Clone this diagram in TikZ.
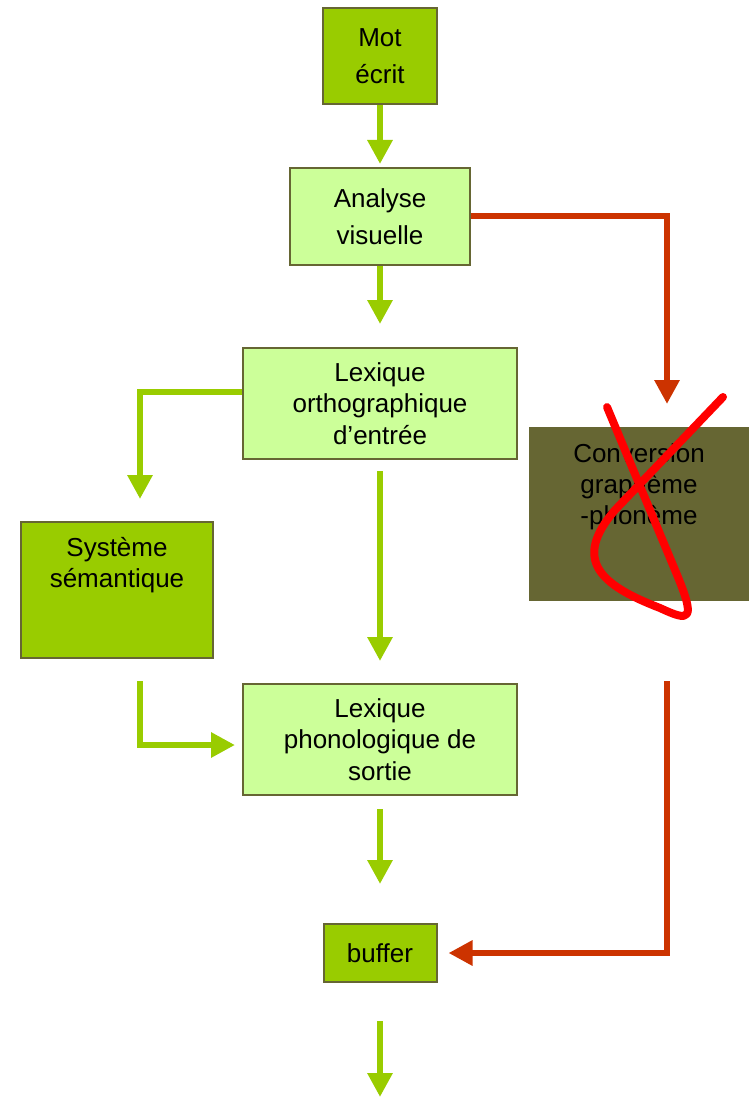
\documentclass[tikz,border=0pt]{standalone}
\usepackage{fontspec}
\setmainfont{Liberation Sans}
\usetikzlibrary{arrows.meta,positioning,calc}
\definecolor{litegreen}{HTML}{CCFF99}
\definecolor{darkgreen}{HTML}{99CC00}
\definecolor{olivebox}{HTML}{666633}
\definecolor{arrowred}{HTML}{CC3300}
\tikzset{>={Triangle[width=18pt,length=18pt]}}

\begin{document}
\begin{tikzpicture}[x=0.75pt, y=-0.75pt,
  txt/.style = {font=\fontsize{19.5}{23.5}\selectfont, align=center, inner sep=0pt},
  box/.style = {txt, draw=olivebox, line width=1.5pt},
  lite/.style = {box, fill=litegreen},
  dark/.style = {box, fill=darkgreen},
  garrow/.style = {->, draw=darkgreen, line width=4.5pt},
  rarrow/.style = {->, draw=arrowred, line width=4.5pt}]
\useasboundingbox (0,0) rectangle (754,1098);
% boxes
\node[dark, minimum width=85.5pt, minimum height=72pt, font=\fontsize{19.5}{27.75}\selectfont] (mot) at (380,56) {Mot\\écrit};
\node[lite, minimum width=135pt, minimum height=72.75pt, font=\fontsize{19.5}{27.75}\selectfont] (ana) at (380,216.5) {Analyse\\visuelle};
\node[lite, minimum width=205.5pt, minimum height=83.25pt] (lex) at (380,403.5) {Lexique\\orthographique\\d’entrée};
\node[dark, minimum width=144pt, minimum height=102pt] (sem) at (117,590) {};
\node[txt, anchor=north] (semtext) at ($(sem.north)+(0,16)$) {Système\\sémantique};
\node[box, draw=olivebox, fill=olivebox, minimum width=163.5pt, minimum height=129pt] (conv) at (639,514) {};
\node[txt, anchor=north] (convtext) at ($(conv.north)+(0,16)$) {Conversion\\graphème\\-phonème};
\node[lite, minimum width=205.5pt, minimum height=83.25pt] (phon) at (380,739.5) {Lexique\\phonologique de\\sortie};
\node[dark, minimum width=84.75pt, minimum height=43.5pt] (buf) at (380,953) {buffer};
\coordinate (out) at (380,1097);
% green connectors
\draw[garrow, shorten >=2.25pt] (mot) -- (ana);
\draw[garrow, shorten >=17.25pt] (ana) -- (lex);
\draw[garrow, shorten <=8.25pt, shorten >=16.5pt] (lex) -- (phon);
\draw[garrow, shorten <=9.75pt, shorten >=29.25pt] (phon) -- (buf);
\draw[garrow, shorten <=28.5pt] (buf) -- (out);
\draw[garrow, shorten >=16.5pt] ($(lex.west)+(0,-11.5)$) -| ($(sem.north)+(23,0)$);
\draw[garrow] ($(sem.south)+(23,22)$) |- ($(phon.west)+(-7,5.5)$);
% red connectors
\draw[rarrow, shorten >=17.25pt] (ana.east) -| ($(conv.north)+(28,0)$);
\draw[rarrow, shorten >=8.25pt] ($(conv.south)+(28,80)$) |- (buf.east);
% cross over the conversion route
\draw[red, line width=6pt, line cap=round, line join=round]
  (607,407) -- (675,570) .. controls (697,622) and (690,622) .. (660,608)
  .. controls (600,585) and (572,560) .. (615,510) -- (723,397);
\end{tikzpicture}
\end{document}
